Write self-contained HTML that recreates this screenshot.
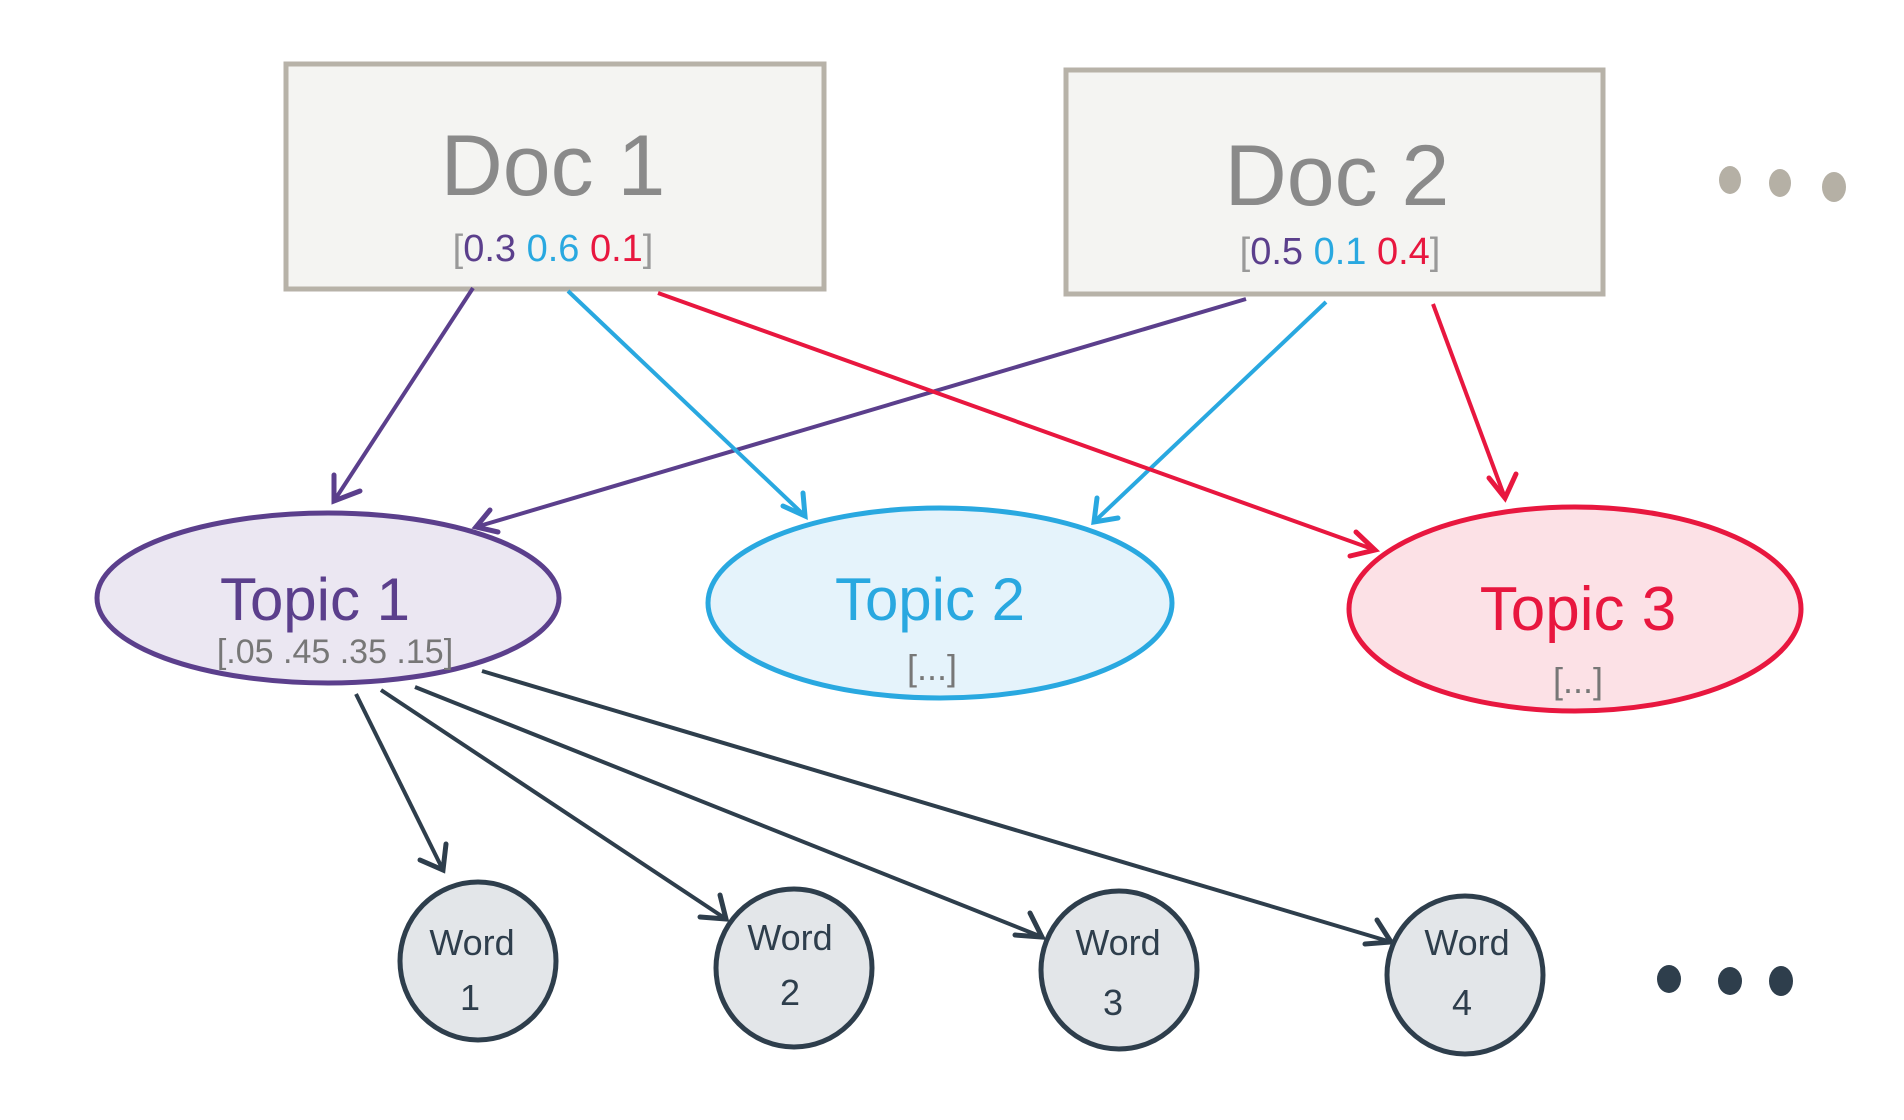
<!DOCTYPE html>
<html><head><meta charset="utf-8"><style>
html,body{margin:0;padding:0;background:#fff;}
svg{display:block;}
text{font-family:"Liberation Sans",sans-serif;}
</style></head><body>
<svg width="1904" height="1120" viewBox="0 0 1904 1120" xmlns="http://www.w3.org/2000/svg">
<defs>
<marker id="ap" viewBox="0 0 10 10" refX="9" refY="5" markerWidth="9" markerHeight="9" orient="auto" markerUnits="userSpaceOnUse"><path d="M0,0 L10,5 L0,10" fill="none"/></marker>
</defs>
<!-- boxes -->
<rect x="286" y="64" width="538" height="225" fill="#f4f4f2" stroke="#b7b2a8" stroke-width="5"/>
<rect x="1066" y="70" width="537" height="224" fill="#f4f4f2" stroke="#b7b2a8" stroke-width="5"/>
<text x="553" y="195" font-size="86" fill="#8a8a8a" text-anchor="middle">Doc 1</text>
<text x="553" y="261" font-size="38" text-anchor="middle" fill="#999">[<tspan fill="#5b3f8c">0.3</tspan> <tspan fill="#29a8e0">0.6</tspan> <tspan fill="#e8173f">0.1</tspan>]</text>
<text x="1337" y="205" font-size="86" fill="#8a8a8a" text-anchor="middle">Doc 2</text>
<text x="1340" y="264" font-size="38" text-anchor="middle" fill="#999">[<tspan fill="#5b3f8c">0.5</tspan> <tspan fill="#29a8e0">0.1</tspan> <tspan fill="#e8173f">0.4</tspan>]</text>
<g fill="#b5b0a5"><ellipse cx="1730" cy="180" rx="11" ry="14"/><ellipse cx="1780" cy="183" rx="11" ry="14"/><ellipse cx="1834" cy="187" rx="12" ry="15"/></g>
<!-- ellipses -->
<ellipse cx="328" cy="598" rx="231" ry="85" fill="#ebe7f2" stroke="#5b3f8c" stroke-width="5"/>
<ellipse cx="940" cy="603" rx="232" ry="95" fill="#e5f3fb" stroke="#29a8e0" stroke-width="5"/>
<ellipse cx="1575" cy="609" rx="226" ry="102" fill="#fce1e6" stroke="#e8173f" stroke-width="5"/>
<text x="315" y="620" font-size="60" fill="#5b3f8c" text-anchor="middle">Topic 1</text>
<text x="335" y="663" font-size="34" fill="#777" text-anchor="middle">[.05 .45 .35 .15]</text>
<text x="930" y="620" font-size="60" fill="#29a8e0" text-anchor="middle">Topic 2</text>
<text x="932" y="680" font-size="36" fill="#777" text-anchor="middle">[...]</text>
<text x="1578" y="630" font-size="62" fill="#e8173f" text-anchor="middle">Topic 3</text>
<text x="1578" y="693" font-size="36" fill="#777" text-anchor="middle">[...]</text>
<!-- arrows -->
<g stroke-width="4" fill="none">
<line x1="473" y1="288" x2="334" y2="501" stroke="#5b3f8c" marker-end="url(#ap)" style="stroke:#5b3f8c"/>
<line x1="1246" y1="299" x2="476" y2="527" stroke="#5b3f8c" marker-end="url(#ap)"/>
<line x1="568" y1="291" x2="805" y2="516" stroke="#29a8e0" marker-end="url(#ap)"/>
<line x1="1326" y1="302" x2="1094" y2="522" stroke="#29a8e0" marker-end="url(#ap)"/>
<line x1="658" y1="293" x2="1375" y2="550" stroke="#e8173f" marker-end="url(#ap)"/>
<line x1="1433" y1="304" x2="1505" y2="498" stroke="#e8173f" marker-end="url(#ap)"/>
<line x1="356" y1="694" x2="443" y2="870" stroke="#2e3e4c" marker-end="url(#ap)"/>
<line x1="381" y1="690" x2="726" y2="919" stroke="#2e3e4c" marker-end="url(#ap)"/>
<line x1="415" y1="687" x2="1042" y2="937" stroke="#2e3e4c" marker-end="url(#ap)"/>
<line x1="482" y1="671" x2="1391" y2="942" stroke="#2e3e4c" marker-end="url(#ap)"/>
</g>
<!-- arrowheads drawn explicitly -->
<g fill="none" stroke-width="5" stroke-linecap="round">
<polyline points="334,475 334,501 360,491" stroke="#5b3f8c"/>
<polyline points="490,510 476,527 498,532" stroke="#5b3f8c"/>
<polyline points="783,506 805,516 803,493" stroke="#29a8e0"/>
<polyline points="1097,498 1094,522 1118,518" stroke="#29a8e0"/>
<polyline points="1356,532 1375,550 1350,556" stroke="#e8173f"/>
<polyline points="1489,478 1505,498 1516,474" stroke="#e8173f"/>
<polyline points="420,860 443,870 446,844" stroke="#2e3e4c"/>
<polyline points="700,917 726,919 720,895" stroke="#2e3e4c"/>
<polyline points="1015,935 1042,937 1030,913" stroke="#2e3e4c"/>
<polyline points="1365,944 1391,942 1377,920" stroke="#2e3e4c"/>
</g>
<!-- words -->
<g fill="#e3e6e9" stroke="#2e3e4c" stroke-width="5">
<ellipse cx="478" cy="961" rx="78" ry="79"/>
<ellipse cx="794" cy="968" rx="78" ry="79"/>
<ellipse cx="1119" cy="970" rx="78" ry="79"/>
<ellipse cx="1465" cy="975" rx="78" ry="79"/>
</g>
<g fill="#2e3e4c" font-size="36" text-anchor="middle">
<text x="472" y="955">Word</text><text x="470" y="1010">1</text>
<text x="790" y="950">Word</text><text x="790" y="1005">2</text>
<text x="1118" y="955">Word</text><text x="1113" y="1015">3</text>
<text x="1467" y="955">Word</text><text x="1462" y="1015">4</text>
</g>
<g fill="#2e3e4c"><ellipse cx="1669" cy="979" rx="12" ry="14"/><ellipse cx="1730" cy="981" rx="12" ry="14"/><ellipse cx="1781" cy="981" rx="12" ry="15"/></g>
</svg>
</body></html>
